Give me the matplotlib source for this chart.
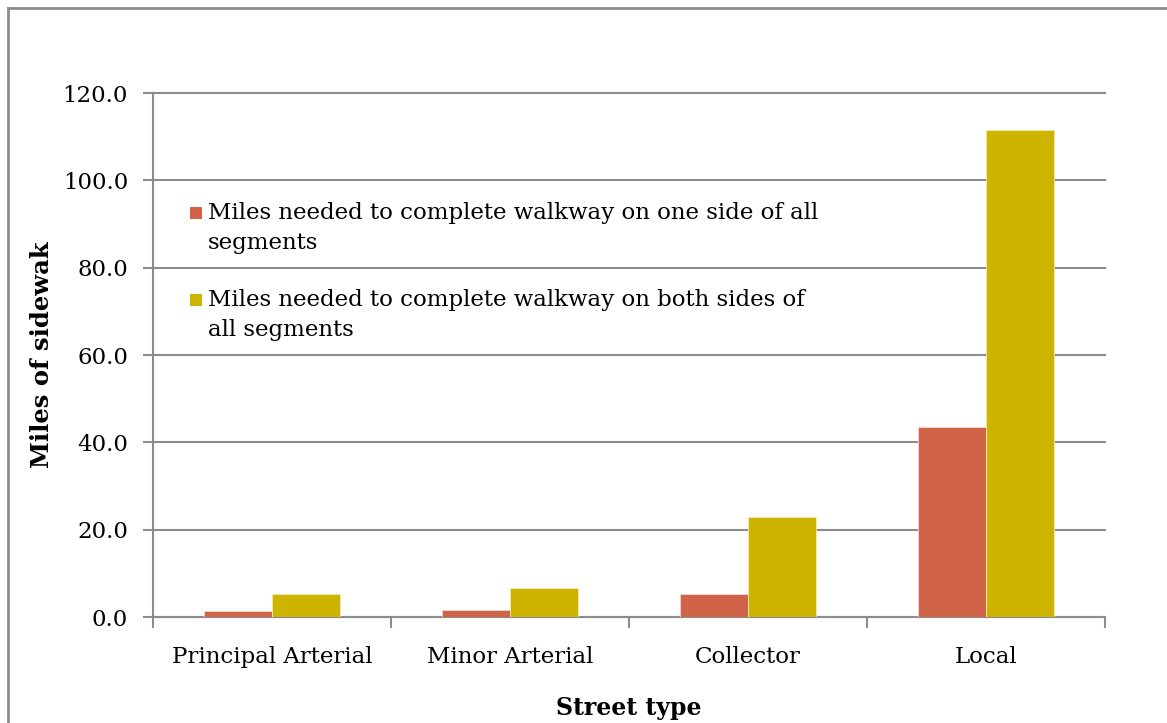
import numpy as np
import matplotlib.pyplot as plt
from matplotlib.lines import Line2D
from matplotlib.patches import Rectangle

plt.rcParams['font.family'] = ['DejaVu Serif']

# Data
categories = ['Principal Arterial', 'Minor Arterial', 'Collector', 'Local']
one_side = [1.4, 1.7, 5.2, 43.5]
both_sides = [5.2, 6.7, 22.8, 111.5]
labels = ['Miles needed to complete walkway on one side of all\nsegments',
          'Miles needed to complete walkway on both sides of\nall segments']
yticks = [0, 20, 40, 60, 80, 100, 120]

red = '#D16349'
gold = '#CCB400'
grid_c = '#8C8C8C'

W, H = 1167, 723
dpi = 100
fig = plt.figure(figsize=(W/dpi, H/dpi), dpi=dpi)
ax = fig.add_axes([153/W, 1 - 617/H, (1105 - 153)/W, (617 - 93)/H])

x = np.arange(len(categories))
w = 0.284
ax.bar(x - w/2, one_side, w, color=red, edgecolor='#F3D9D2', lw=0.6, zorder=3)
ax.bar(x + w/2, both_sides, w, color=gold, edgecolor='#F3EBB0', lw=0.6, zorder=3)

ax.set_xlim(-0.5, len(categories) - 0.5)
ax.set_ylim(0, 120)
ax.set_yticks(yticks)
ax.set_yticklabels(['%.1f' % v for v in yticks], fontsize=16.5)
ax.yaxis.grid(True, color=grid_c, lw=1.5, zorder=0)
for gl in ax.get_ygridlines():
    gl.set_clip_on(False)
ax.set_xticks(x)
ax.set_xticklabels(categories, fontsize=16.5)
ax.set_xticks(np.arange(-0.5, len(categories)), minor=True)
ax.tick_params(axis='x', which='major', length=0, pad=21)
ax.tick_params(axis='x', which='minor', length=8, width=1.5, color=grid_c)
ax.tick_params(axis='y', length=7, width=1.5, color=grid_c, pad=11)

for s in ['top', 'right']:
    ax.spines[s].set_visible(False)
for s in ['left', 'bottom']:
    ax.spines[s].set_color(grid_c)
    ax.spines[s].set_linewidth(1.5)
ax.set_axisbelow(True)

ax.set_ylabel('Miles of sidewak', fontsize=17.5, fontweight='bold', labelpad=6)
ax.set_xlabel('Street type', fontsize=17, fontweight='bold', labelpad=20)

# legend drawn by hand: square aligned with first line of wrapped label
for lab, col, y0 in zip(labels, [red, gold], [213, 300]):
    fig.add_artist(Rectangle((190/W, 1 - (y0 + 6)/H), 12/W, 12/H,
                             transform=fig.transFigure, facecolor=col, lw=0))
    fig.text(208/W, 1 - (y0 + 15)/H, lab, fontsize=16.5, va='center',
             ha='left', linespacing=1.5)

# outer chart frame (left and top edges)
fig.add_artist(Line2D([8/W, 8/W], [0, 1 - 8/H], color=grid_c, lw=2))
fig.add_artist(Line2D([8/W, 1], [1 - 8/H, 1 - 8/H], color=grid_c, lw=2))

fig.savefig('out.png', dpi=dpi)
